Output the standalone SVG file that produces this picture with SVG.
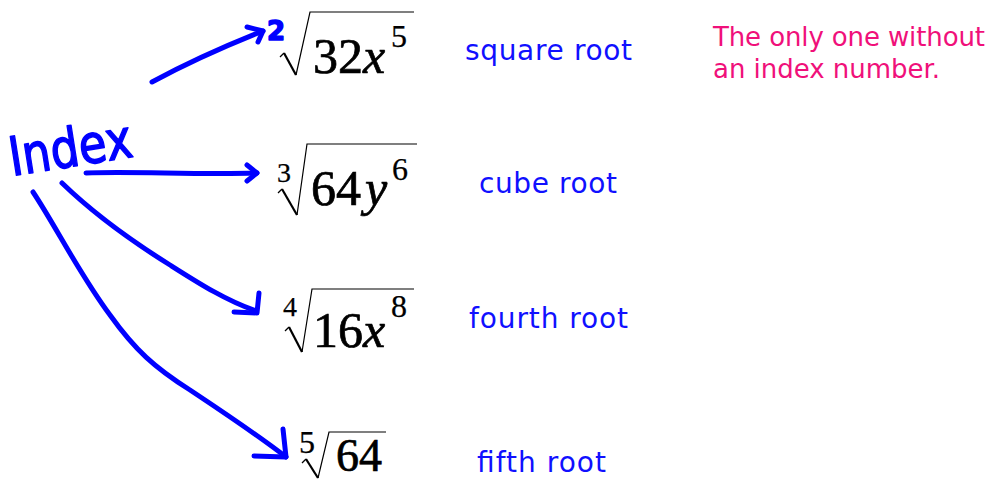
<svg xmlns="http://www.w3.org/2000/svg" width="988" height="481" viewBox="0 0 988 481">
<style>
.math{font-family:"Liberation Serif","Times New Roman",serif;fill:#000;stroke:#000;stroke-width:0.7}
.sm{stroke-width:0.25}
.it{font-style:italic}
.rad{fill:none;stroke:#000;stroke-width:1.2;stroke-linejoin:miter}
.radb{fill:none;stroke:#000;stroke-width:2.2}
.lbl{font-family:"DejaVu Sans","Verdana",sans-serif;font-size:28px;fill:#1010ff}
.note{font-family:"DejaVu Sans","Verdana",sans-serif;font-size:26px;fill:#f0107a}
.ink{fill:none;stroke:#0000ff;stroke-width:5;stroke-linecap:round;stroke-linejoin:round}
.hand{font-family:"DejaVu Sans",sans-serif;fill:#0000ff;stroke:#0000ff;stroke-width:1.5;stroke-linejoin:round}
</style>
<rect width="988" height="481" fill="#fff"/>

<g id="index-word">
<text class="hand" x="12" y="176" font-size="54" textLength="124" lengthAdjust="spacingAndGlyphs" transform="rotate(-9 12 176)">Index</text>
</g>

<g id="connectors">
<path class="ink" d="M152,82 C178,68 215,50 263,31"/>
<path class="ink" d="M247,27 L263,31 L258,42"/>
<path class="ink" d="M86,173 C130,171 200,175 257,173"/>
<path class="ink" d="M247,165 L257,173 L247,181"/>
<path class="ink" d="M62,183 C95,215 130,240 170,265 C200,284 225,300 256,311"/>
<path class="ink" d="M234,312 L257,313 L259,293"/>
<path class="ink" d="M33,192 C55,225 80,275 110,315 C135,350 155,368 190,390 C220,410 255,433 286,457"/>
<path class="ink" d="M254,456 L286,457 L283,429"/>
</g>

<g id="root-square">
<text class="hand" x="267" y="40" font-size="26" font-weight="bold">2</text>
<path class="rad" d="M280,57 L284,53"/>
<path class="radb" d="M284,53 L296,75"/>
<path class="rad" d="M296,75 L310,12 L414,12"/>
<text class="math" x="313" y="73" font-size="50">32<tspan class="it">x</tspan></text>
<text class="math sm" x="391" y="47" font-size="32">5</text>
</g>

<g id="root-cube">
<text class="math sm" x="277" y="182" font-size="28">3</text>
<path class="rad" d="M278,193 L282,189"/>
<path class="radb" d="M282,189 L297,215"/>
<path class="rad" d="M297,215 L307,144 L417,144"/>
<text class="math" x="311" y="205" font-size="50">64<tspan class="it" dx="4">y</tspan></text>
<text class="math sm" x="392" y="180" font-size="32">6</text>
</g>

<g id="root-fourth">
<text class="math sm" x="283" y="316" font-size="28">4</text>
<path class="rad" d="M285,331 L289,327"/>
<path class="radb" d="M289,327 L302,352"/>
<path class="rad" d="M302,352 L312,289 L414,289"/>
<text class="math" x="313" y="347" font-size="50">16<tspan class="it">x</tspan></text>
<text class="math sm" x="391" y="317" font-size="32">8</text>
</g>

<g id="root-fifth">
<text class="math sm" x="299" y="453" font-size="32">5</text>
<path class="rad" d="M302,463 L306,459"/>
<path class="radb" d="M306,459 L318,478"/>
<path class="rad" d="M318,478 L329,432 L386,432"/>
<text class="math" x="336" y="471" font-size="46">64</text>
</g>

<g id="labels">
<text class="lbl" x="465" y="60" textLength="167" lengthAdjust="spacing">square root</text>
<text class="lbl" x="479" y="193" textLength="138" lengthAdjust="spacing">cube root</text>
<text class="lbl" x="469" y="328" textLength="159" lengthAdjust="spacing">fourth root</text>
<text class="lbl" x="477" y="472" textLength="129" lengthAdjust="spacing">fifth root</text>
</g>

<g id="note">
<text class="note" x="713" y="46" textLength="272" lengthAdjust="spacing">The only one without</text>
<text class="note" x="713" y="78" textLength="227" lengthAdjust="spacing">an index number.</text>
</g>
</svg>
